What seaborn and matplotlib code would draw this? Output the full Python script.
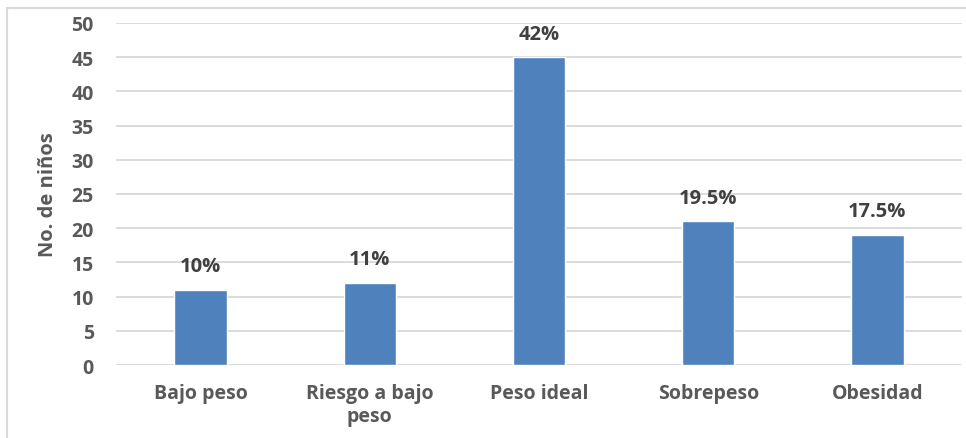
import matplotlib
matplotlib.use("Agg")
import matplotlib.pyplot as plt
import seaborn as sns
import pandas as pd
from matplotlib.patches import Rectangle

# chart data
categories = ["Bajo peso", "Riesgo a bajo\npeso", "Peso ideal", "Sobrepeso", "Obesidad"]
counts = [11, 12, 45, 21, 19]
pct_labels = ["10%", "11%", "42%", "19.5%", "17.5%"]
y_ticks = [0, 5, 10, 15, 20, 25, 30, 35, 40, 45, 50]

sns.set_style("white")
plt.rcParams["font.family"] = ["Open Sans", "DejaVu Sans"]

df = pd.DataFrame({"cat": categories, "n": counts})

fig = plt.figure(figsize=(9.66, 4.39), dpi=100)
ax = fig.add_axes([116 / 966, 1 - 366 / 439, (962 - 116) / 966, (366 - 24) / 439])

sns.barplot(data=df, x="cat", y="n", color="#4F81BD", saturation=1, width=0.31, ax=ax, zorder=3)

ax.set_ylim(0, 50)
ax.set_yticks(y_ticks)
ax.set_xlim(-0.5, len(categories) - 0.5)
ax.grid(axis="y", color="#D9D9D9", linewidth=1.3, zorder=0)
ax.set_axisbelow(True)
for s in ax.spines.values():
    s.set_visible(False)

ax.tick_params(axis="y", length=0, pad=16, labelsize=14, labelcolor="#595959")
ax.tick_params(axis="x", length=0, pad=13, labelsize=14, labelcolor="#595959")
for t in ax.get_xticklabels() + ax.get_yticklabels():
    t.set_fontweight("bold")

ax.set_xlabel("")
ax.set_ylabel("No. de niños", fontsize=14.5, fontweight="bold", color="#595959", labelpad=10)

for i, (v, lab) in enumerate(zip(counts, pct_labels)):
    ax.annotate(lab, (i, v), xytext=(0, 17), textcoords="offset points",
                ha="center", va="center", fontsize=14.5, fontweight="bold", color="#404040")

# outer chart border
fig.patches.append(Rectangle((7 / 966, -0.1), 1.2, 1.1 - 9 / 439, transform=fig.transFigure,
                             fill=False, edgecolor="#D9D9D9", linewidth=1.5))

fig.savefig("out.png", dpi=100)
